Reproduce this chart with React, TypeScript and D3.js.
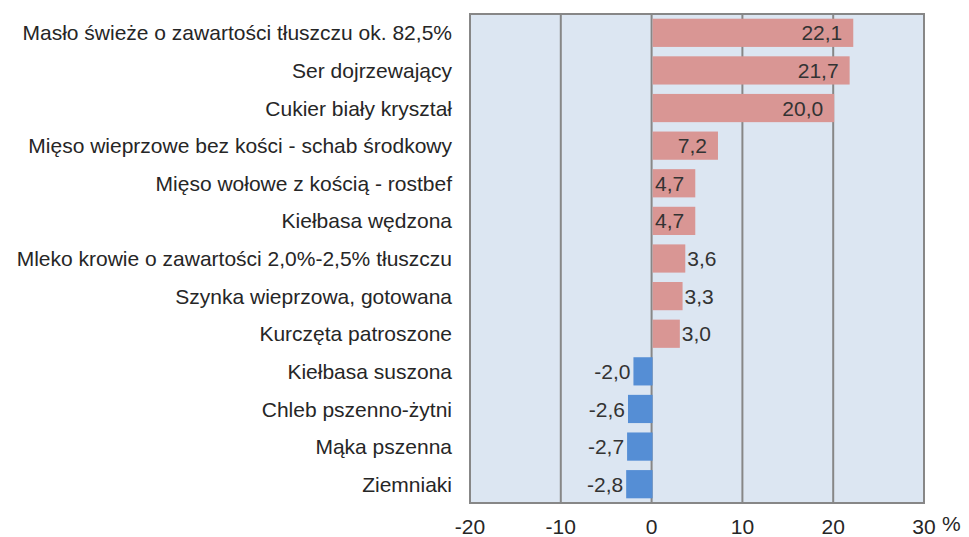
import React, { useEffect } from "react";
import * as d3 from "d3";

const categories = [
  "Masło świeże o zawartości tłuszczu ok. 82,5%",
  "Ser dojrzewający",
  "Cukier biały kryształ",
  "Mięso wieprzowe bez kości - schab środkowy",
  "Mięso wołowe z kością - rostbef",
  "Kiełbasa wędzona",
  "Mleko krowie o zawartości 2,0%-2,5% tłuszczu",
  "Szynka wieprzowa, gotowana",
  "Kurczęta patroszone",
  "Kiełbasa suszona",
  "Chleb pszenno-żytni",
  "Mąka pszenna",
  "Ziemniaki",
];
const values = [22.1, 21.7, 20.0, 7.2, 4.7, 4.7, 3.6, 3.3, 3.0, -2.0, -2.6, -2.7, -2.8];
const xTicks = [-20, -10, 0, 10, 20, 30];

const W = 969;
const H = 537;
const left = 470;
const right = 924;
const top = 14;
const bottom = 503;
const FONT = "'Liberation Sans', Arial, sans-serif";
const FS = 21;

const fmt = (v: number) => v.toFixed(1).replace(".", ",");

export default function App() {
  useEffect(() => {
    document.body.style.margin = "0";
  }, []);
  const x = d3.scaleLinear().domain([-20, 30]).range([left, right]);
  const y = d3
    .scaleBand<string>()
    .domain(categories)
    .range([top, bottom])
    .paddingInner(0.25)
    .paddingOuter(0.125);
  const bw = y.bandwidth();
  return (
    <svg width={W} height={H} style={{ display: "block" }} fontFamily={FONT}>
      <rect x={left} y={top} width={right - left} height={bottom - top} fill="#DCE6F2" />
      {xTicks.map((t) => (
        <line key={t} x1={x(t)} x2={x(t)} y1={top} y2={bottom} stroke="#878787" strokeWidth={2} />
      ))}
      <rect x={left} y={top} width={right - left} height={bottom - top} fill="none" stroke="#878787" strokeWidth={2} />
      {values.map((v, i) => {
        const c = categories[i];
        const x0 = x(Math.min(0, v));
        const x1 = x(Math.max(0, v));
        const yc = (y(c) as number) + bw / 2;
        const w = x1 - x0;
        let tx: number;
        let anchor: "start" | "end";
        if (v >= 0) {
          if (w > 40) {
            tx = x1 - 10;
            anchor = "end";
          } else {
            tx = x1 + 3;
            anchor = "start";
          }
        } else {
          tx = x0 - 3;
          anchor = "end";
        }
        return (
          <g key={c}>
            <rect
              x={v >= 0 ? x0 + 1 : x0}
              y={y(c)}
              width={v >= 0 ? w : w + 1}
              height={bw}
              fill={v >= 0 ? "#D99694" : "#558ED5"}
            />
            <text x={tx} y={yc} dy="0.36em" textAnchor={anchor} fontSize={FS} fill="#333333">
              {fmt(v)}
            </text>
          </g>
        );
      })}
      {categories.map((c) => (
        <text
          key={c}
          x={452}
          y={(y(c) as number) + bw / 2}
          dy="0.36em"
          textAnchor="end"
          fontSize={FS}
          fill="#262626"
        >
          {c}
        </text>
      ))}
      {xTicks.map((t) => (
        <text key={t} x={x(t)} y={534} textAnchor="middle" fontSize={FS} fill="#262626">
          {String(t)}
        </text>
      ))}
      <text x={x(30) + 18} y={531} textAnchor="start" fontSize={FS} fill="#262626">
        %
      </text>
    </svg>
  );
}
